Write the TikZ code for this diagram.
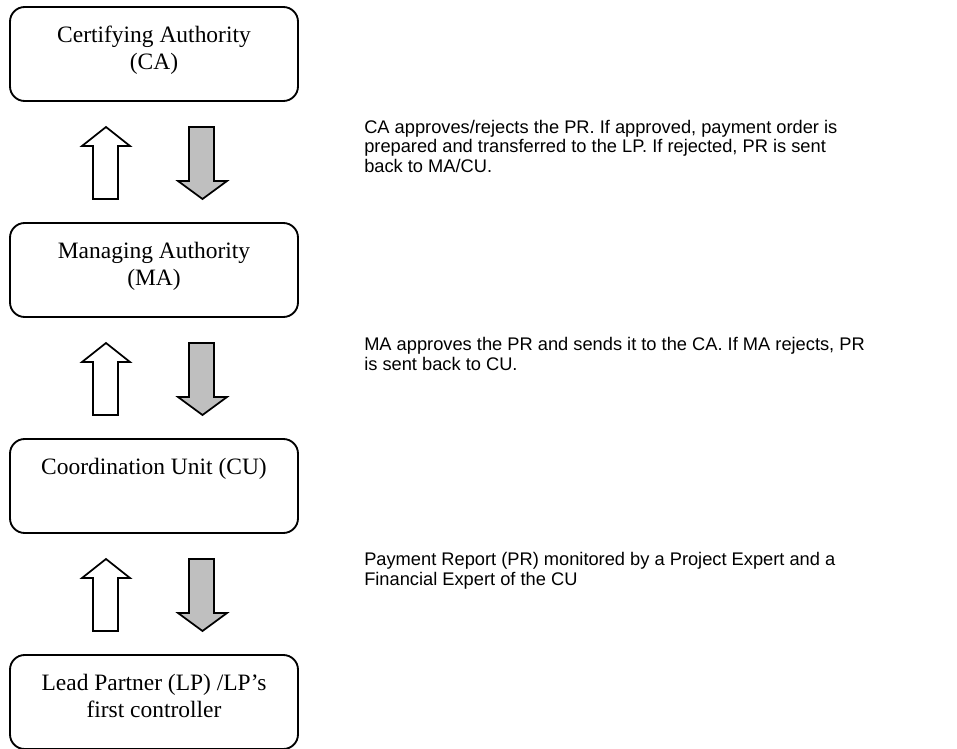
\documentclass[tikz,border=0pt]{standalone}
\usepackage{fontspec}
\setmainfont{Liberation Serif}
\newfontfamily\notefont{Liberation Sans}
\begin{document}
\begin{tikzpicture}[x=0.75pt,y=-0.75pt,
  stagebox/.style={draw=black, line width=1.4pt, rounded corners=11pt,
    minimum width=288*0.75pt, minimum height=94*0.75pt, inner sep=0pt},
  stagetext/.style={anchor=base, align=center, inner sep=0pt,
    font=\fontsize{17.6pt}{20.25pt}\selectfont},
  note/.style={anchor=base west, align=left, inner sep=0pt,
    font=\notefont\fontsize{13.7pt}{14.6pt}\selectfont},
  uparrow/.style={draw=black, line width=1.3pt, fill=white, line join=miter},
  downarrow/.style={draw=black, line width=1.3pt, fill=black!25, line join=miter}]
\useasboundingbox (0,0) rectangle (957,749);

% stage boxes, 216px apart
\node[stagebox] (ca) at (154,54)  {};
\node[stagebox] (ma) at (154,270) {};
\node[stagebox] (cu) at (154,486) {};
\node[stagebox] (lp) at (154,702) {};

% box labels; the anchor sits on the last line's baseline
\node[stagetext] (ca-text) at ([yshift=-63*0.75pt]ca.north) {Certifying Authority\\(CA)};
\node[stagetext] (ma-text) at ([yshift=-63*0.75pt]ma.north) {Managing Authority\\(MA)};
\node[stagetext] (cu-text) at ([yshift=-36*0.75pt]cu.north) {Coordination Unit (CU)};
\node[stagetext] (lp-text) at ([yshift=-63*0.75pt]lp.north) {Lead Partner (LP) /LP’s\\first controller};

% block arrows between consecutive boxes: white upward, grey downward
\foreach \dy in {0,216,432} {
  \draw[uparrow] (106,127+\dy) -- (130,146+\dy) -- (118,146+\dy) -- (118,199+\dy)
    -- (93,199+\dy) -- (93,146+\dy) -- (82,146+\dy) -- cycle;
  \draw[downarrow] (189,127+\dy) -- (214,127+\dy) -- (214,181+\dy) -- (227,181+\dy)
    -- (202.5,199+\dy) -- (178,181+\dy) -- (189,181+\dy) -- cycle;
}

% explanatory notes; the anchor sits on the last line's baseline
\node[note] (ca-note) at (364,172) {CA approves/rejects the PR. If approved, payment order is\\prepared and transferred to the LP. If rejected, PR is sent\\back to MA/CU.};
\node[note] (ma-note) at (364,370) {MA approves the PR and sends it to the CA. If MA rejects, PR\\is sent back to CU.};
\node[note] (cu-note) at (364,585) {Payment Report (PR) monitored by a Project Expert and a\\Financial Expert of the CU};
\end{tikzpicture}
\end{document}
